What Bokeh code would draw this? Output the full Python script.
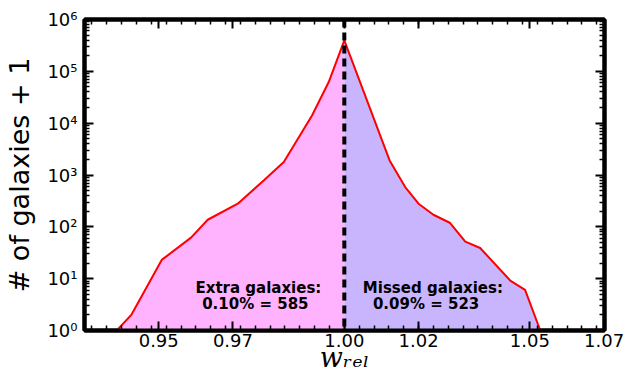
from bokeh.plotting import figure
from bokeh.models import (FixedTicker, LinearAxis, LogAxis, Label, CustomJSTickFormatter,
                          Range1d, Span)
from bokeh.embed import file_html
from bokeh.resources import INLINE
import numpy as np

# ---- data ----
w_threshold = 1.00
# left side (w_rel <= 1): extra galaxies
w_left = [0.9387, 0.9426, 0.9508, 0.9587, 0.9632, 0.9713, 0.9785, 0.9837, 0.9913, 0.9958, 1.0000]
n_left = [1, 2, 23, 62, 137, 279, 811, 1775, 14100, 62100, 396000]
# right side (w_rel >= 1): missed galaxies
w_right = [1.0122, 1.0164, 1.0200, 1.0240, 1.0284, 1.0326, 1.0366, 1.0447, 1.0487, 1.0528]
n_right = [1914, 584, 279, 171, 120, 52, 39, 9.2, 6.1, 1]

x_major = [0.95, 0.97, 1.00, 1.02, 1.05, 1.07]
x_labels = ["0.95", "0.97", "1.00", "1.02", "1.05", "1.07"]
y_major = [1, 10, 100, 1000, 10000, 100000, 1000000]

extra_text = ["Extra galaxies:", "0.10% = 585"]
missed_text = ["Missed galaxies:", "0.09% = 523"]
x_title = "w\u1d63\u2091\u2097"
y_title = "# of galaxies + 1"

# ---- figure ----
p = figure(width=626, height=376, x_range=Range1d(0.93, 1.0701), y_range=Range1d(1, 1e6),
           y_axis_type="log", output_backend="svg", toolbar_location=None,
           min_border_left=84, min_border_right=22, min_border_top=19, min_border_bottom=46)
p.background_fill_color = "white"
p.border_fill_color = "white"
p.grid.visible = False
p.outline_line_color = "black"
p.outline_line_width = 4

# fills
p.varea(x=w_left, y1=1, y2=n_left, fill_color="#FFB3FF")
p.varea(x=[w_left[-1]] + w_right, y1=1, y2=[n_left[-1]] + n_right, fill_color="#C9B4FE")
# threshold line
p.add_layout(Span(location=w_threshold, dimension="height", line_color="black",
                  line_width=4, line_dash="8 5"))
# curve
p.line(w_left + w_right, n_left + n_right, line_color="red", line_width=2)

# ticks
x_minor = list(np.round(np.arange(0.932, 1.0701, 0.004), 4))
y_minor = [m * 10 ** k for k in range(6) for m in range(2, 10)]
xt = FixedTicker(ticks=x_major, minor_ticks=x_minor)
yt = FixedTicker(ticks=y_major, minor_ticks=y_minor)

ylab = CustomJSTickFormatter(code="""
const s = ['\u2070','\u00b9','\u00b2','\u00b3','\u2074','\u2075','\u2076'];
return '10' + s[Math.round(Math.log10(tick))];
""")
xlab = CustomJSTickFormatter(args=dict(vals=x_major, labs=x_labels), code="""
let best = 0, d = 1e9;
for (let i = 0; i < vals.length; i++) { const e = Math.abs(vals[i] - tick); if (e < d) { d = e; best = i; } }
return labs[best];
""")
blank = CustomJSTickFormatter(code="return '';")

def style(ax):
    ax.axis_line_width = 4
    ax.axis_line_color = "black"
    ax.major_tick_in = 9
    ax.major_tick_out = 0
    ax.minor_tick_in = 5
    ax.minor_tick_out = 0
    ax.major_tick_line_width = 2
    ax.minor_tick_line_width = 1.5
    ax.major_tick_line_color = "black"
    ax.minor_tick_line_color = "black"
    ax.major_label_text_font = "DejaVu Sans"
    ax.major_label_text_font_size = "18px"
    ax.major_label_text_color = "black"

xa = p.xaxis[0]
xa.ticker = xt
xa.formatter = xlab
style(xa)
xa.major_label_standoff = 3
xa.axis_label = x_title
xa.axis_label_text_font = "DejaVu Serif"
xa.axis_label_text_font_size = "27px"
xa.axis_label_text_font_style = "italic"
xa.axis_label_text_color = "black"
xa.axis_label_standoff = -8

ya = p.yaxis[0]
ya.ticker = yt
ya.formatter = ylab
style(ya)
ya.major_label_standoff = 7
ya.axis_label = y_title
ya.axis_label_text_font = "DejaVu Sans"
ya.axis_label_text_font_size = "27px"
ya.axis_label_text_font_style = "normal"
ya.axis_label_text_color = "black"
ya.axis_label_standoff = 9

top = LinearAxis(ticker=xt, formatter=blank)
style(top)
top.major_label_standoff = 0
p.add_layout(top, "above")
right = LogAxis(ticker=yt, formatter=blank)
style(right)
right.major_label_standoff = 0
p.add_layout(right, "right")

# annotations
def lab(x, y, t, size, style="bold", font="DejaVu Sans"):
    p.add_layout(Label(x=x, y=y, text=t, text_font=font, text_font_size=size,
                       text_font_style=style, text_color="black",
                       text_baseline="alphabetic", text_align="left"))

lab(0.9599, 6.7, extra_text[0], "15px")
lab(0.9617, 3.2, extra_text[1], "15px")
lab(1.0050, 6.7, missed_text[0], "15px")
lab(1.0077, 3.2, missed_text[1], "15px")

open("out.html", "w").write(file_html(p, INLINE))
